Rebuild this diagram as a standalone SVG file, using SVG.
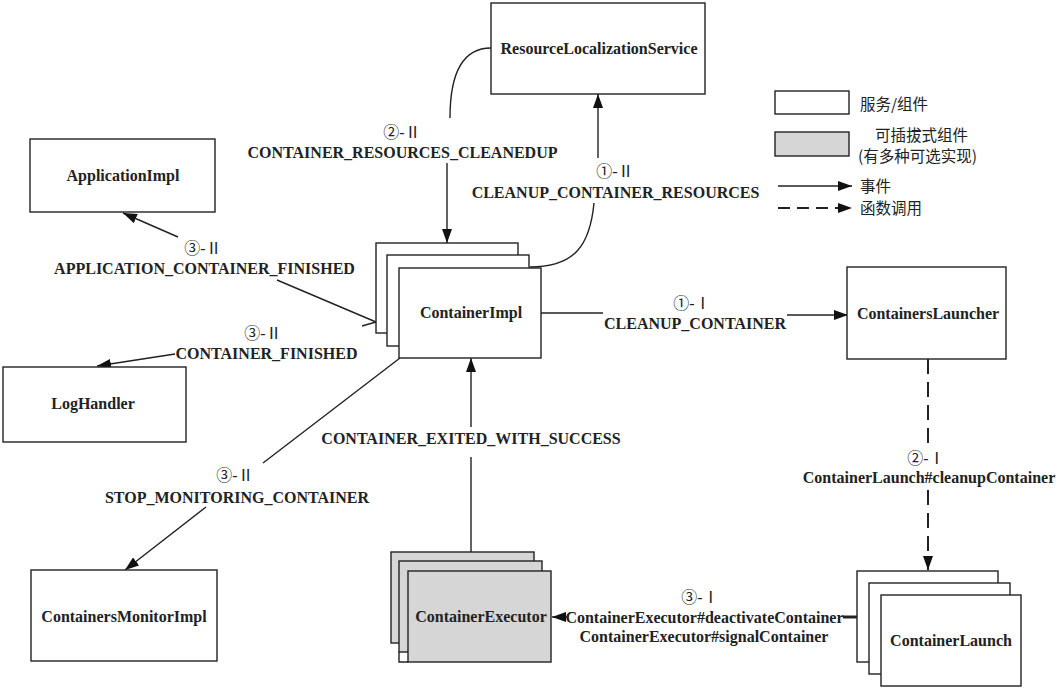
<svg xmlns="http://www.w3.org/2000/svg" width="1058" height="695" viewBox="0 0 1058 695">
<style>
.box{fill:#fff;stroke:#222;stroke-width:1.4}
.gbox{fill:#d6d6d6;stroke:#222;stroke-width:1.4}
.ln{fill:none;stroke:#222;stroke-width:1.4}
.dash{fill:none;stroke:#222;stroke-width:2;stroke-dasharray:15 8}
.t{font-family:"Liberation Serif","Times New Roman",serif;font-weight:bold;font-size:16px;fill:#222;text-anchor:middle}
.n{font-family:"Liberation Serif","Noto Sans CJK SC",serif;font-size:16px;fill:#222;text-anchor:middle}
.cn{font-family:"Noto Sans CJK SC",sans-serif;font-size:15.5px;fill:#222}
</style>
<defs>
<marker id="arr" viewBox="0 0 14 10" refX="14" refY="5" markerWidth="14" markerHeight="10" orient="auto" markerUnits="userSpaceOnUse"><path d="M0,0 L14,5 L0,10 z" fill="#111"/></marker>
</defs>
<rect width="1058" height="695" fill="#fff"/>

<g id="connectors">
  <path class="ln" d="M491,48 C465,48 450,70 450,118"/>
  <path class="ln" d="M447,163 L447,243" marker-end="url(#arr)"/>
  <path class="ln" d="M530,267 C575,267 590,245 594,203"/>
  <path class="ln" d="M598,158 L598,94" marker-end="url(#arr)"/>
  <path class="ln" d="M178,237 L123,213" marker-end="url(#arr)"/>
  <path class="ln" d="M277,280 L376,322 M362,326 L376,322"/>
  <path class="ln" d="M175,354 L97,366" marker-end="url(#arr)"/>
  <path class="ln" d="M400,358 L263,463"/>
  <path class="ln" d="M206,507 L125,570" marker-end="url(#arr)"/>
  <path class="ln" d="M541,313 L603,313"/>
  <path class="ln" d="M787,315 L848,315" marker-end="url(#arr)"/>
  <path class="dash" d="M928,359 L928,446"/>
  <path class="dash" d="M928,490 L928,570" marker-end="url(#arr)"/>
  <path class="ln" d="M471,552 L471,457"/>
  <path class="ln" d="M471,427 L471,358" marker-end="url(#arr)"/>
  <path class="ln" d="M857,617 L843,617" style="stroke-width:3"/>
  <path class="ln" d="M567,617 L552,617" marker-end="url(#arr)"/>
</g>

<g id="ResourceLocalizationService">
  <rect class="box" x="491" y="3" width="214" height="91"/>
  <text class="t" x="599" y="53.5">ResourceLocalizationService</text>
</g>
<g id="ApplicationImpl">
  <rect class="box" x="30" y="139" width="185" height="73"/>
  <text class="t" x="123" y="181">ApplicationImpl</text>
</g>
<g id="LogHandler">
  <rect class="box" x="3" y="367" width="183" height="75"/>
  <text class="t" x="93" y="408.5">LogHandler</text>
</g>
<g id="ContainersMonitorImpl">
  <rect class="box" x="31" y="570" width="186" height="91"/>
  <text class="t" x="124" y="622">ContainersMonitorImpl</text>
</g>
<g id="ContainerImpl">
  <rect class="box" x="376" y="243" width="142" height="90"/>
  <rect class="box" x="387" y="255" width="142" height="91"/>
  <rect class="box" x="399" y="268" width="142" height="90"/>
  <text class="t" x="471" y="318">ContainerImpl</text>
</g>
<g id="ContainersLauncher">
  <rect class="box" x="847" y="267" width="159" height="92"/>
  <text class="t" x="928" y="319">ContainersLauncher</text>
</g>
<g id="ContainerExecutor">
  <rect class="gbox" x="391" y="552" width="143" height="91"/>
  <rect class="gbox" x="399" y="561" width="143" height="91"/>
  <path class="ln" d="M399,652 V662 H408"/>
  <rect class="gbox" x="408" y="571" width="143" height="91"/>
  <text class="t" x="481" y="622">ContainerExecutor</text>
</g>
<g id="ContainerLaunch">
  <rect class="box" x="857" y="571" width="141" height="91"/>
  <rect class="box" x="869" y="583" width="141" height="91"/>
  <rect class="box" x="881" y="595" width="140" height="91"/>
  <text class="t" x="951" y="646">ContainerLaunch</text>
</g>

<g id="labels">
  <text class="n" x="402" y="138">②-Ⅱ</text>
  <text class="t" x="402.5" y="158">CONTAINER_RESOURCES_CLEANEDUP</text>
  <text class="n" x="615" y="177">①-Ⅱ</text>
  <text class="t" x="615.5" y="197.5">CLEANUP_CONTAINER_RESOURCES</text>
  <text class="n" x="203" y="254">③-Ⅱ</text>
  <text class="t" x="204.5" y="274">APPLICATION_CONTAINER_FINISHED</text>
  <text class="n" x="263" y="339">③-Ⅱ</text>
  <text class="t" x="266.5" y="359">CONTAINER_FINISHED</text>
  <text class="n" x="692" y="309">①-Ⅰ</text>
  <text class="t" x="695" y="329">CLEANUP_CONTAINER</text>
  <text class="t" x="471" y="444">CONTAINER_EXITED_WITH_SUCCESS</text>
  <text class="n" x="235" y="481">③-Ⅱ</text>
  <text class="t" x="237" y="503">STOP_MONITORING_CONTAINER</text>
  <text class="n" x="926" y="464">②-Ⅰ</text>
  <text class="t" x="929" y="483">ContainerLaunch#cleanupContainer</text>
  <text class="n" x="700" y="603">③-Ⅰ</text>
  <text class="t" x="704.5" y="623">ContainerExecutor#deactivateContainer</text>
  <text class="t" x="704" y="642">ContainerExecutor#signalContainer</text>
</g>

<g id="legend">
  <rect class="box" x="775" y="91" width="74" height="23"/>
  <text class="cn" x="860" y="109.5">服务/组件</text>
  <rect class="gbox" x="775" y="132" width="74" height="24"/>
  <text class="cn" x="875" y="140.5">可插拔式组件</text>
  <text class="cn" x="858" y="161.5">(有多种可选实现)</text>
  <path class="ln" d="M778,186 L852,186" marker-end="url(#arr)"/>
  <text class="cn" x="860" y="191.5">事件</text>
  <path class="dash" d="M778,208 L852,208" style="stroke-dasharray:12 7" marker-end="url(#arr)"/>
  <text class="cn" x="860" y="213.5">函数调用</text>
</g>
</svg>
